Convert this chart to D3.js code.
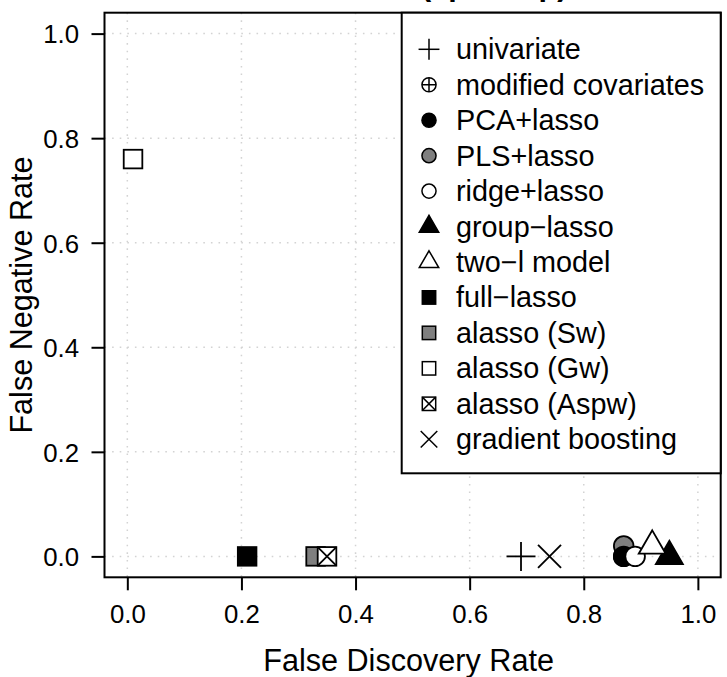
<!DOCTYPE html>
<html>
<head>
<meta charset="utf-8">
<script src="https://cdn.jsdelivr.net/npm/d3@7/dist/d3.min.js"></script>
<style>
  html, body { margin: 0; padding: 0; background: #ffffff; }
  svg { display: block; }
  text { font-family: "Liberation Sans", Arial, Helvetica, sans-serif; fill: #000; }
</style>
</head>
<body>
<svg id="chart" width="727" height="677"></svg>
<script>
// ---- data ----
const methods = ["univariate", "modified covariates", "PCA+lasso", "PLS+lasso", "ridge+lasso",
  "group\u2212lasso", "two\u2212l model", "full\u2212lasso", "alasso (Sw)", "alasso (Gw)",
  "alasso (Aspw)", "gradient boosting"];
const fdr = [0.69, 0.87, 0.87, 0.87, 0.89, 0.95, 0.92, 0.21, 0.33, 0.01, 0.35, 0.74];
const fnr = [0.00, 0.00, 0.00, 0.02, 0.00, 0.00, 0.02, 0.00, 0.00, 0.76, 0.00, 0.00];
const xTicks = [0, 0.2, 0.4, 0.6, 0.8, 1.0];
const yTicks = [0, 0.2, 0.4, 0.6, 0.8, 1.0];
const xTitle = "False Discovery Rate";
const yTitle = "False Negative Rate";
const mainTitle = "Scenario 2 (sparse p)";

// ---- styles ----
const shapes = ["plus", "circleplus", "circle", "circle", "circle", "triangle", "triangle",
  "square", "square", "square", "squarex", "cross"];
const fills = ["none", "none", "#000000", "#7f7f7f", "#ffffff", "#000000", "#ffffff",
  "#000000", "#7f7f7f", "#ffffff", "#ffffff", "none"];
const drawOrder = [0, 1, 3, 2, 4, 5, 6, 7, 8, 9, 10, 11];

const svg = d3.select("#chart");
const L = 104.5, R = 720.7, T = 12.7, B = 577.3;
const x = d3.scaleLinear().domain([-0.04, 1.04]).range([L, R]);
const y = d3.scaleLinear().domain([-0.04, 1.04]).range([B, T]);

// grid
const grid = svg.append("g");
grid.selectAll("line.gx").data(xTicks).enter().append("line")
  .attr("x1", d => x(d)).attr("x2", d => x(d)).attr("y1", T).attr("y2", B)
  .attr("stroke", "#d3d3d3").attr("stroke-width", 1.5).attr("stroke-dasharray", "1.6,6");
grid.selectAll("line.gy").data(yTicks).enter().append("line")
  .attr("y1", d => y(d)).attr("y2", d => y(d)).attr("x1", L).attr("x2", R)
  .attr("stroke", "#d3d3d3").attr("stroke-width", 1.5).attr("stroke-dasharray", "1.6,6");

// axes
const fmt = d3.format(".1f");
const xa = svg.append("g").attr("transform", `translate(0,${B})`)
  .call(d3.axisBottom(x).tickValues(xTicks).tickFormat(fmt).tickSize(13).tickSizeOuter(0));
xa.select(".domain").remove();
xa.selectAll(".tick line").attr("stroke", "#000").attr("stroke-width", 2);
xa.selectAll(".tick text").attr("y", 45.7).attr("dy", 0)
  .style("font-size", "25.8px").style("font-family", "'Liberation Sans', Arial, sans-serif").attr("fill", "#000");

const ya = svg.append("g").attr("transform", `translate(${L},0)`)
  .call(d3.axisLeft(y).tickValues(yTicks).tickFormat(fmt).tickSize(13).tickSizeOuter(0));
ya.select(".domain").remove();
ya.selectAll(".tick line").attr("stroke", "#000").attr("stroke-width", 2);
ya.selectAll(".tick text").attr("x", -25.5).attr("dy", "0.36em")
  .style("font-size", "25.8px").style("font-family", "'Liberation Sans', Arial, sans-serif").attr("fill", "#000");

// titles
svg.append("text").attr("x", (L + R) / 2 - 4).attr("y", 671).attr("text-anchor", "middle")
  .style("font-size", "30.6px").text(xTitle);
svg.append("text").attr("transform", `translate(31.5,${(T + B) / 2}) rotate(-90)`)
  .attr("text-anchor", "middle").style("font-size", "30.6px").text(yTitle);
svg.append("text").attr("x", (L + R) / 2).attr("y", -5.5).attr("text-anchor", "middle")
  .style("font-size", "30.6px").style("font-weight", "bold").text(mainTitle);

// symbol drawer
function drawSymbol(g, shape, fill, cx, cy, k, sw) {
  const s = g.append("g").attr("transform", `translate(${cx},${cy})`);
  const st = "#000";
  if (shape === "plus") {
    const h = 14.5 * k;
    s.append("line").attr("x1", -h).attr("x2", h).attr("y1", 0).attr("y2", 0).attr("stroke", st).attr("stroke-width", sw);
    s.append("line").attr("y1", -h).attr("y2", h).attr("x1", 0).attr("x2", 0).attr("stroke", st).attr("stroke-width", sw);
  } else if (shape === "cross") {
    const h = 11.5 * k;
    s.append("line").attr("x1", -h).attr("x2", h).attr("y1", -h).attr("y2", h).attr("stroke", st).attr("stroke-width", sw);
    s.append("line").attr("x1", -h).attr("x2", h).attr("y1", h).attr("y2", -h).attr("stroke", st).attr("stroke-width", sw);
  } else if (shape === "circle" || shape === "circleplus") {
    const r = 9.8 * k;
    s.append("circle").attr("r", r).attr("fill", fill).attr("stroke", st).attr("stroke-width", sw);
    if (shape === "circleplus") {
      s.append("line").attr("x1", -r).attr("x2", r).attr("stroke", st).attr("stroke-width", sw);
      s.append("line").attr("y1", -r).attr("y2", r).attr("stroke", st).attr("stroke-width", sw);
    }
  } else if (shape === "triangle") {
    const xc = 13.5 * k;
    const pts = [[0, -1.155 * xc], [xc, 0.577 * xc], [-xc, 0.577 * xc]];
    s.append("polygon").attr("points", pts.map(p => p.join(",")).join(" "))
      .attr("fill", fill).attr("stroke", st).attr("stroke-width", sw).attr("stroke-linejoin", "miter");
  } else if (shape === "square" || shape === "squarex") {
    const h = 9.3 * k;
    s.append("rect").attr("x", -h).attr("y", -h).attr("width", 2 * h).attr("height", 2 * h)
      .attr("fill", fill).attr("stroke", st).attr("stroke-width", sw);
    if (shape === "squarex") {
      s.append("line").attr("x1", -h).attr("x2", h).attr("y1", -h).attr("y2", h).attr("stroke", st).attr("stroke-width", sw);
      s.append("line").attr("x1", -h).attr("x2", h).attr("y1", h).attr("y2", -h).attr("stroke", st).attr("stroke-width", sw);
    }
  }
}

// points
const pts = svg.append("g");
drawOrder.forEach(i => drawSymbol(pts, shapes[i], fills[i], x(fdr[i]), y(fnr[i]), 1, 1.8));

// plot box
svg.append("rect").attr("x", L).attr("y", T).attr("width", R - L).attr("height", B - T)
  .attr("fill", "none").attr("stroke", "#000").attr("stroke-width", 2);

// legend
const lg = svg.append("g");
const lgL = 401.7, lgT = T, lgR = R, lgB = 473.3;
lg.append("rect").attr("x", lgL).attr("y", lgT).attr("width", lgR - lgL).attr("height", lgB - lgT)
  .attr("fill", "#ffffff").attr("stroke", "#000").attr("stroke-width", 2);
methods.forEach((m, i) => {
  const cy = 49.3 + i * 35.45;
  drawSymbol(lg, shapes[i], fills[i], 429, cy, 0.72, 1.5);
  lg.append("text").attr("x", 456).attr("y", cy + 10).style("font-size", "28.8px").text(m);
});
</script>
</body>
</html>
